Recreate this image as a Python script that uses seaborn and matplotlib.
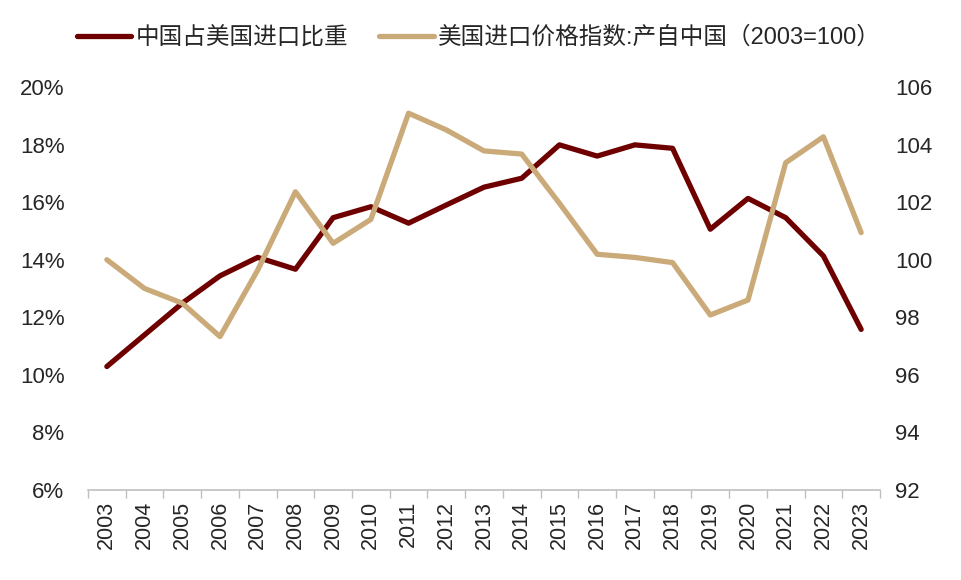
import matplotlib
matplotlib.use("Agg")
import matplotlib.pyplot as plt
import seaborn as sns
import pandas as pd
from matplotlib.ticker import FuncFormatter, MultipleLocator, FixedLocator

years = list(range(2003, 2024))
share = [10.29, 11.39, 12.49, 13.44, 14.08, 13.67, 15.46, 15.84, 15.27, 15.90,
         16.52, 16.83, 17.99, 17.60, 17.99, 17.87, 15.06, 16.13, 15.46, 14.13, 11.58]
price_idx = [100.0, 99.0, 98.49, 97.33, 99.64, 102.36, 100.57, 101.40, 105.09, 104.51,
             103.78, 103.67, 101.96, 100.19, 100.08, 99.90, 98.08, 98.60, 103.37, 104.27, 100.94]
label_share = "中国占美国进口比重"
label_price = "美国进口价格指数:产自中国（2003=100）"

df = pd.DataFrame({"year": years, "share": share, "price": price_idx})

sns.set_theme(style="white")
plt.rcParams['font.family'] = ['Liberation Sans', 'Noto Sans CJK SC', 'DejaVu Sans']

fig = plt.figure(figsize=(9.62, 5.80), dpi=100)
ax = fig.add_axes([88/962, 1-490/580, (880-88)/962, (490-87)/580])
ax2 = ax.twinx()

c1 = "#6E0000"
c2 = "#CBAA7A"
sns.lineplot(data=df, x="year", y="share", ax=ax, color=c1, linewidth=3.8, label=label_share, legend=False)
sns.lineplot(data=df, x="year", y="price", ax=ax2, color=c2, linewidth=3.8, label=label_price, legend=False)

ax.set_xlim(2002.5, 2023.5)
ax.set_ylim(6, 20)
ax2.set_ylim(92, 106)
ax.yaxis.set_major_locator(MultipleLocator(2))
ax2.yaxis.set_major_locator(MultipleLocator(2))
ax.yaxis.set_major_formatter(FuncFormatter(lambda v, p: f"{v:.0f}%"))
ax2.yaxis.set_major_formatter(FuncFormatter(lambda v, p: f"{v:.0f}"))

ax.set_xticks(years)
ax.set_xticklabels([str(y) for y in years], rotation=90)
ax.xaxis.set_minor_locator(FixedLocator([y - 0.5 for y in years] + [2023.5]))
ax.tick_params(axis="x", which="major", length=0, pad=8, labelsize=15.5)
ax.tick_params(axis="x", which="minor", length=6, width=1, color="#BFBFBF", direction="out", bottom=True)
ax.tick_params(axis="y", length=0, pad=17, labelsize=16)
ax2.tick_params(axis="y", length=0, pad=11, labelsize=16)

for a in (ax, ax2):
    for s in ("top", "left", "right", "bottom"):
        a.spines[s].set_visible(False)
    a.set_xlabel("")
    a.set_ylabel("")
ax.spines["bottom"].set_visible(True)
ax.spines["bottom"].set_color("#BFBFBF")
ax.spines["bottom"].set_linewidth(1.2)

h1, l1 = ax.get_legend_handles_labels()
h2, l2 = ax2.get_legend_handles_labels()
fig.legend(h1 + h2, l1 + l2, loc="center", bbox_to_anchor=(479/962, 1-38/580), ncol=2,
           frameon=False, fontsize=17, handlelength=2.3, handletextpad=0.2, columnspacing=1.3)

fig.savefig("out.png", dpi=100)
